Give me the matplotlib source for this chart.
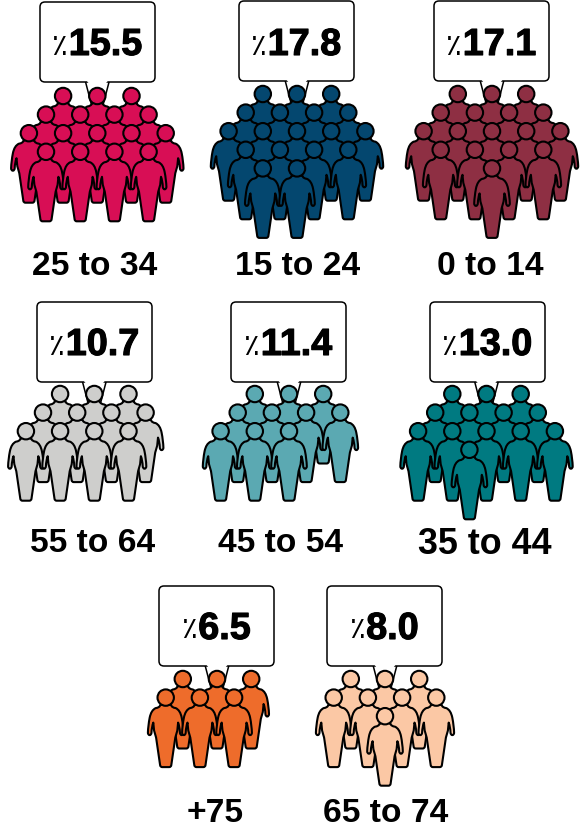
import matplotlib
matplotlib.use("Agg")
import matplotlib.pyplot as plt
from matplotlib.path import Path
from matplotlib.patches import PathPatch, FancyBboxPatch, Polygon, Circle
import matplotlib.patheffects as pe

# ---- data ----
age_groups = ["25 to 34", "15 to 24", "0 to 14", "55 to 64", "45 to 54", "35 to 44", "+75", "65 to 74"]
shares = ["15.5", "17.8", "17.1", "10.7", "11.4", "13.0", "6.5", "8.0"]
colors = ["#D80E55", "#04476F", "#8E2F43", "#CECECC", "#5BA9B2", "#007A81", "#EE6C2B", "#FBC8A5"]
# half-column offsets of the people in each row, back row first
people_rows = [
    [[-2, 0, 2], [-3, -1, 1, 3], [-4, -2, 0, 2, 4], [-3, -1, 1, 3]],
    [[-2, 0, 2], [-3, -1, 1, 3], [-4, -2, 0, 2, 4], [-3, -1, 1, 3], [-2, 0]],
    [[-2, 0, 2], [-3, -1, 1, 3], [-4, -2, 0, 2, 4], [-3, -1, 1, 3], [0]],
    [[-2, 0, 2], [-3, -1, 1, 3], [-4, -2, 0, 2]],
    [[-2, 0, 2], [-3, -1, 1, 3], [-4, -2, 0]],
    [[-2, 0, 2], [-3, -1, 1, 3], [-4, -2, 0, 2, 4], [-1]],
    [[-2, 0, 2], [-3, -1, 1]],
    [[-2, 0, 2], [-3, -1, 1, 3], [0]],
]

# ---- layout (pixels) ----
W, H = 581, 829
centers = [97.3, 297, 492, 94.3, 289, 486.5, 217, 385]
box_left = [40, 239, 434, 37, 231, 430, 159, 327]
box_top = [3, 2, 2, 303, 303, 303, 587, 587]
head_y = [97, 95, 95, 395, 395, 395, 680, 680]
value_y = [46, 46, 46, 346, 346, 346, 630, 630]
label_x = [95, 298, 490.5, 92.5, 280.5, 484.5, 215.5, 385.5]
label_y = [266, 266, 266, 544, 543, 545, 814, 814]
label_size = [24.2, 24.2, 24.2, 24.2, 24.2, 25.8, 24.2, 24.2]
BOX_W, BOX_H = 115, 80
HALF_COL, ROW_H = 17.1, 18.6
HEAD_R = 8.2
LW = 1.5

fig = plt.figure(figsize=(W / 100, H / 100), dpi=100, facecolor="white")
ax = fig.add_axes([0, 0, 1, 1])
ax.set_xlim(0, W)
ax.set_ylim(H, 0)
ax.axis("off")


def build_body():
    """Outline of the figure below the head, built from its right half."""
    segs = [
        ((5.5, 7.5),),
        ((6.0, 10.0), (10.0, 10.5)),
        ((14.5, 12.5), (16.0, 20.0)),
        ((17.6, 28.0), (17.8, 35.0)),
        ((17.8, 37.5), (16.0, 37.5)),
        ((14.4, 37.5), (14.2, 35.0)),
        ((14.0, 29.0), (12.4, 25.0)),
        ((11.6, 33.0),),
        ((9.6, 40.0),),
        ((5.6, 67.5),),
        ((5.4, 69.5), (3.5, 69.5)),
    ]
    start = (0.0, 6.0)
    v, c = [start], [Path.MOVETO]
    for s in segs:
        for p in s:
            v.append(p)
            c.append(Path.LINETO if len(s) == 1 else Path.CURVE3)
    # mirrored way back
    prev_ends = [start] + [s[-1] for s in segs]
    v.append((-3.5, 69.5)); c.append(Path.LINETO)
    for k in range(len(segs) - 1, -1, -1):
        s = segs[k]
        end = prev_ends[k]
        if len(s) == 1:
            v.append((-end[0], end[1])); c.append(Path.LINETO)
        else:
            v.append((-s[0][0], s[0][1])); c.append(Path.CURVE3)
            v.append((-end[0], end[1])); c.append(Path.CURVE3)
    v.append(start); c.append(Path.CLOSEPOLY)
    return Path(v, c)


BODY = build_body()
z = 2.0


def person(cx, cy, color):
    """Draw one figure with its head centred on (cx, cy)."""
    global z
    moved = Path(BODY.vertices + [cx, cy], BODY.codes)
    ax.add_patch(PathPatch(moved, fc=color, ec="black", lw=LW, joinstyle="round", zorder=z))
    ax.add_patch(Circle((cx, cy), HEAD_R, fc=color, ec="black", lw=LW, zorder=z))
    z += 0.01


fig.canvas.draw()
for i, group in enumerate(age_groups):
    cx, left, top = centers[i], box_left[i], box_top[i]
    z = 2.0
    # speech bubble
    ax.add_patch(Polygon([(cx - 12, top + BOX_H - 1), (cx - 5.5, top + BOX_H + 24), (cx + 5.5, top + BOX_H + 24),
                          (cx + 12, top + BOX_H - 1)], closed=True, fc="white", ec="black", lw=1.1, zorder=1))
    ax.add_patch(FancyBboxPatch((left + 5, top + 5), BOX_W - 10, BOX_H - 10, boxstyle="round,pad=5,rounding_size=5",
                                fc="white", ec="black", lw=1.1, zorder=1.1))
    ax.add_patch(Polygon([(cx - 10.8, top + BOX_H - 1.5), (cx + 10.8, top + BOX_H - 1.5), (cx, top + BOX_H + 12)],
                         closed=True, fc="white", ec="none", zorder=1.2))
    # people
    for r, row in enumerate(people_rows[i]):
        for off in row:
            person(cx + off * HALF_COL, head_y[i] + r * ROW_H, colors[i])
    # value text: small percent sign + heavy number, centred together in the box
    num = ax.text(cx, value_y[i], shares[i], fontsize=27.2, fontweight="bold", family="Liberation Sans",
                  ha="left", va="center", color="black", zorder=5,
                  path_effects=[pe.withStroke(linewidth=0.8, foreground="black")])
    w = num.get_window_extent(fig.canvas.get_renderer()).width
    x0 = left + BOX_W / 2 - (w + 15) / 2 + 15 + 0.5
    num.set_x(x0)
    ax.text(x0 - 1.5, value_y[i] + 0.5, "\u066A", fontsize=21, family="DejaVu Sans", ha="right", va="center",
            color="black", zorder=5)
    # group label
    ax.text(label_x[i], label_y[i], group, fontsize=label_size[i], fontweight="bold",
            family="Liberation Sans", ha="center", va="center", color="black")

fig.savefig("out.png", dpi=100, facecolor="white")
